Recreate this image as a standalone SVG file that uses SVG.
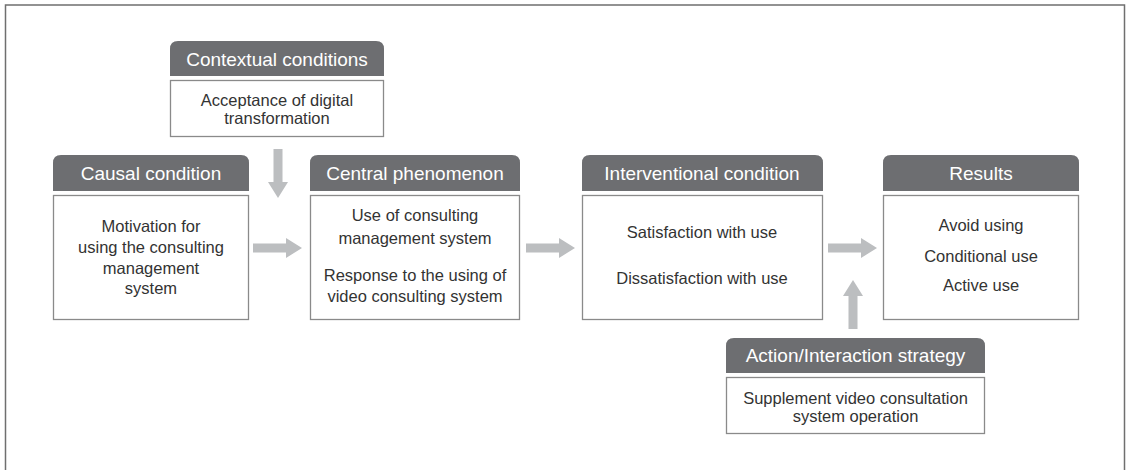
<svg xmlns="http://www.w3.org/2000/svg" width="1127" height="470" viewBox="0 0 1127 470">
  <defs>
    <style>
      .frame { fill: none; stroke: #6f6f6f; stroke-width: 1.5; }
      .head { fill: #6d6e71; }
      .head-text { fill: #ffffff; font-family: "Liberation Sans", Arial, sans-serif; font-size: 19px; text-anchor: middle; }
      .body { fill: #ffffff; stroke: #8a8a8a; stroke-width: 1.3; }
      .body-text { fill: #333333; font-family: "Liberation Sans", Arial, sans-serif; font-size: 16.5px; text-anchor: middle; }
      .arrow { fill: #bcbec0; }
    </style>
    <!-- block arrow pointing right, tip at origin -->
    <path id="arrow-r" d="M-49,-4.5 L-16,-4.5 L-16,-10 L0,0 L-16,10 L-16,4.5 L-49,4.5 Z"/>
  </defs>

  <!-- outer frame, open at the bottom -->
  <path class="frame" d="M5.5,470 L5.5,5 L1124.5,5 L1124.5,470"/>

  <g id="contextual-conditions">
    <path class="head" d="M170,76 L170,49 Q170,41 178,41 L376,41 Q384,41 384,49 L384,76 Z"/>
    <text class="head-text" x="277" y="66">Contextual conditions</text>
    <rect class="body" x="170.5" y="80.5" width="213" height="56"/>
    <text class="body-text" x="277" y="106">Acceptance of digital</text>
    <text class="body-text" x="277" y="124">transformation</text>
  </g>

  <g id="causal-condition">
    <path class="head" d="M53,191 L53,163 Q53,155 61,155 L241,155 Q249,155 249,163 L249,191 Z"/>
    <text class="head-text" x="151" y="180">Causal condition</text>
    <rect class="body" x="53.5" y="195.5" width="195" height="124"/>
    <text class="body-text" x="151" y="232">Motivation for</text>
    <text class="body-text" x="151" y="253">using the consulting</text>
    <text class="body-text" x="151" y="274">management</text>
    <text class="body-text" x="151" y="294">system</text>
  </g>

  <g id="central-phenomenon">
    <path class="head" d="M310,191 L310,163 Q310,155 318,155 L512,155 Q520,155 520,163 L520,191 Z"/>
    <text class="head-text" x="415" y="180">Central phenomenon</text>
    <rect class="body" x="310.5" y="195.5" width="209" height="124"/>
    <text class="body-text" x="415" y="221">Use of consulting</text>
    <text class="body-text" x="415" y="244">management system</text>
    <text class="body-text" x="415" y="281">Response to the using of</text>
    <text class="body-text" x="415" y="302">video consulting system</text>
  </g>

  <g id="interventional-condition">
    <path class="head" d="M582,191 L582,163 Q582,155 590,155 L815,155 Q823,155 823,163 L823,191 Z"/>
    <text class="head-text" x="702" y="180">Interventional condition</text>
    <rect class="body" x="582.5" y="195.5" width="240" height="124"/>
    <text class="body-text" x="702" y="238">Satisfaction with use</text>
    <text class="body-text" x="702" y="284">Dissatisfaction with use</text>
  </g>

  <g id="results">
    <path class="head" d="M883,191 L883,163 Q883,155 891,155 L1071,155 Q1079,155 1079,163 L1079,191 Z"/>
    <text class="head-text" x="981" y="180">Results</text>
    <rect class="body" x="883.5" y="195.5" width="195" height="124"/>
    <text class="body-text" x="981" y="231">Avoid using</text>
    <text class="body-text" x="981" y="262">Conditional use</text>
    <text class="body-text" x="981" y="291">Active use</text>
  </g>

  <g id="action-interaction-strategy">
    <path class="head" d="M726,373 L726,346 Q726,338 734,338 L977,338 Q985,338 985,346 L985,373 Z"/>
    <text class="head-text" x="855.5" y="362">Action/Interaction strategy</text>
    <rect class="body" x="726.5" y="377.5" width="258" height="56"/>
    <text class="body-text" x="855.5" y="404">Supplement video consultation</text>
    <text class="body-text" x="855.5" y="422">system operation</text>
  </g>

  <g id="connectors" class="arrow">
    <!-- contextual -> central (down) -->
    <use href="#arrow-r" transform="translate(278,198) rotate(90)"/>
    <!-- causal -> central -->
    <use href="#arrow-r" transform="translate(302,248)"/>
    <!-- central -> interventional -->
    <use href="#arrow-r" transform="translate(575,248)"/>
    <!-- interventional -> results -->
    <use href="#arrow-r" transform="translate(877,248)"/>
    <!-- strategy -> results (up) -->
    <use href="#arrow-r" transform="translate(853,280) rotate(-90)"/>
  </g>
</svg>
